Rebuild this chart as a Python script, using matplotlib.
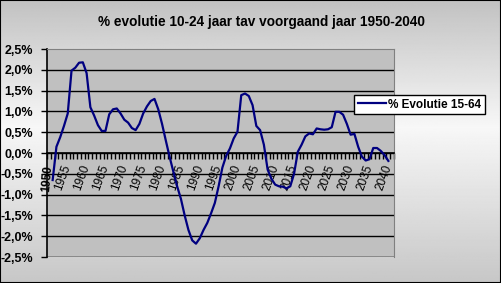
import matplotlib
matplotlib.use("Agg")
import matplotlib.pyplot as plt
import numpy as np
from matplotlib.patches import Rectangle

# yearly change vs previous year, in %
years = list(range(1951, 2041))
evolutie = [
    -0.65, 0.15, 0.38, 0.65, 0.95, 1.98, 2.05, 2.17, 2.18, 1.92,
    1.10, 0.90, 0.67, 0.53, 0.53, 0.93, 1.05, 1.07, 0.95, 0.80,
    0.73, 0.60, 0.55, 0.70, 0.95, 1.12, 1.25, 1.30, 1.05, 0.70,
    0.30, -0.09, -0.45, -0.80, -1.10, -1.50, -1.85, -2.10, -2.18, -2.05,
    -1.85, -1.68, -1.45, -1.20, -0.80, -0.35, -0.07, 0.11, 0.35, 0.51,
    1.39, 1.43, 1.37, 1.15, 0.65, 0.55, 0.20, -0.40, -0.62, -0.76,
    -0.80, -0.81, -0.85, -0.80, -0.50, 0.03, 0.20, 0.40, 0.47, 0.45,
    0.59, 0.57, 0.56, 0.57, 0.62, 0.99, 0.99, 0.92, 0.70, 0.44,
    0.46, 0.15, -0.09, -0.18, -0.15, 0.12, 0.12, 0.05, -0.05, -0.19,
]
label_years = list(range(1950, 2041, 5))
y_ticks = [-2.5, -2.0, -1.5, -1.0, -0.5, 0.0, 0.5, 1.0, 1.5, 2.0, 2.5]
series_name = "% Evolutie 15-64"
title = "% evolutie 10-24 jaar tav voorgaand jaar 1950-2040"

plt.rcParams['font.family'] = ['Liberation Sans', 'DejaVu Sans']

W, H = 501, 283
fig = plt.figure(figsize=(W / 100, H / 100), dpi=100)

# background gradient: grey top, light middle, grey bottom
bg = fig.add_axes([0, 0, 1, 1], zorder=-10)
yy = np.linspace(0, 1, 300)
shade = np.interp(yy, [0, 0.45, 1], [0.76, 0.97, 0.78])
bg.imshow(np.tile(shade[:, None], (1, 2)), cmap='gray', vmin=0, vmax=1,
          aspect='auto', extent=[0, 1, 1, 0])
bg.set_axis_off()

ax = fig.add_axes([47 / W, 1 - 257 / H, 347 / W, 208 / H])
ax.set_facecolor('#c0c0c0')

ax.plot(years, evolutie, color='#000080', linewidth=1.6, label=series_name,
        zorder=5)

ax.set_xlim(1949.5, 2041.5)
ax.set_ylim(-2.5, 2.5)

# horizontal gridlines
for v in y_ticks[1:-1]:
    ax.axhline(v, color='black', linewidth=1.0, zorder=1)
ax.axhline(-2.5, color='#808080', linewidth=1.2, zorder=2)

ax.set_yticks(y_ticks)
ax.set_yticklabels([("%.1f%%" % v).replace('.', ',') for v in y_ticks],
                   fontsize=9, fontweight='bold')
ax.tick_params(axis='y', direction='out', length=4, width=1, pad=6)

ax.spines['bottom'].set_position(('data', 0))
ax.spines['bottom'].set_linewidth(1.2)
ax.spines['left'].set_linewidth(1.2)
ax.spines['top'].set_color('#808080')
ax.spines['right'].set_color('#808080')

ax.set_xticks(label_years)
ax.set_xticks(np.arange(1949.5, 2041.6, 1), minor=True)
ax.set_xticklabels([str(y) for y in label_years], fontsize=8.5,
                   rotation=70, ha='right', va='center',
                   rotation_mode='anchor')
ax.tick_params(axis='x', which='major', length=0, pad=9)
ax.tick_params(axis='x', which='minor', direction='out', length=4, width=1)
first = ax.get_xticklabels()[0]
first.set_fontweight('bold')
first.set_rotation(85)

fig.text(261 / W, 1 - 22 / H, title, ha='center', va='center',
         fontsize=9.8, fontweight='bold')

leg = fig.legend(loc='upper left', bbox_to_anchor=(354 / W, 1 - 95 / H),
                 borderaxespad=0, frameon=True, fancybox=False,
                 edgecolor='black', facecolor='white', framealpha=1,
                 prop={'size': 8.5, 'weight': 'bold'}, handlelength=2.4,
                 handletextpad=0.2, borderpad=0.3)
leg.get_frame().set_linewidth(1.0)

fig.patches.append(Rectangle((0, 0), 1, 1, transform=fig.transFigure,
                             fill=False, edgecolor='black', linewidth=1.5))

fig.savefig('out.png', dpi=100)
